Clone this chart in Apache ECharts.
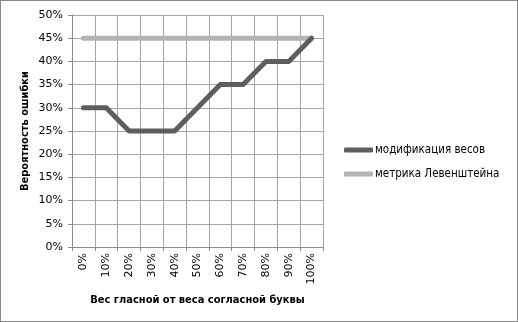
<!DOCTYPE html>
<html>
<head>
<meta charset="utf-8">
<script src="https://cdn.jsdelivr.net/npm/echarts@6/dist/echarts.min.js"></script>
<style>
  html, body { margin: 0; padding: 0; background: #fff; }
  #chart { width: 518px; height: 322px; box-sizing: border-box; border: 1px solid #8a8a8a; }
</style>
</head>
<body>
<div id="chart"></div>
<script>
// Категории по оси X (вес гласной)
const categories = ['0%', '10%', '20%', '30%', '40%', '50%', '60%', '70%', '80%', '90%', '100%'];
// Значения вероятности ошибки, %
const weightMod = [30, 30, 25, 25, 25, 30, 35, 35, 40, 40, 45];
const levenshtein = [45, 45, 45, 45, 45, 45, 45, 45, 45, 45, 45];

const font = 'DejaVu Sans';
const fontText = 'DejaVu Sans Condensed, DejaVu Sans';
const chart = echarts.init(document.getElementById('chart'));

const option = {
    animation: false,
    textStyle: { fontFamily: font },
    grid: { left: 71, right: 194, top: 14, bottom: 74 },
    legend: {
        orient: 'vertical',
        left: 338,
        top: 138,
        itemWidth: 29,
        itemHeight: 5,
        itemGap: 12,
        icon: 'roundRect',
        textStyle: { fontFamily: fontText, fontSize: 11.5, color: '#000', padding: [0, 0, 0, -3] },
        data: ['модификация весов', 'метрика Левенштейна']
    },
    xAxis: {
        type: 'category',
        data: categories,
        boundaryGap: true,
        name: 'Вес гласной от веса согласной буквы',
        nameLocation: 'middle',
        nameGap: 48,
        nameTextStyle: { fontFamily: fontText, fontSize: 11, fontWeight: 'bold', color: '#000' },
        axisLine: { lineStyle: { color: '#8c8c8c' } },
        axisTick: { show: true, length: 4, alignWithLabel: false, lineStyle: { color: '#8c8c8c' } },
        axisLabel: { rotate: 90, margin: 6, fontSize: 11, color: '#000', fontFamily: font, interval: 0 },
        splitLine: { show: true, interval: 0, lineStyle: { color: '#a6a6a6', width: 1 } }
    },
    yAxis: {
        type: 'value',
        min: 0,
        max: 50,
        interval: 5,
        name: 'Вероятность ошибки',
        nameLocation: 'middle',
        nameGap: 41,
        nameTextStyle: { fontFamily: fontText, fontSize: 11, fontWeight: 'bold', color: '#000' },
        axisLine: { show: true, lineStyle: { color: '#8c8c8c' } },
        axisTick: { show: true, length: 4, lineStyle: { color: '#8c8c8c' } },
        axisLabel: { formatter: '{value}%', fontSize: 11, color: '#000', fontFamily: font, margin: 9 },
        splitLine: { show: true, lineStyle: { color: '#a6a6a6', width: 1 } }
    },
    series: [
        {
            name: 'модификация весов',
            type: 'line',
            data: weightMod,
            symbol: 'none',
            itemStyle: { color: '#5e5e5e' },
            lineStyle: { color: '#5e5e5e', width: 5, cap: 'round', join: 'round' },
            z: 3
        },
        {
            name: 'метрика Левенштейна',
            type: 'line',
            data: levenshtein,
            symbol: 'none',
            itemStyle: { color: '#b3b3b3' },
            lineStyle: { color: '#b3b3b3', width: 5, cap: 'round', join: 'round' },
            z: 2
        }
    ]
};

chart.setOption(option);
</script>
</body>
</html>
